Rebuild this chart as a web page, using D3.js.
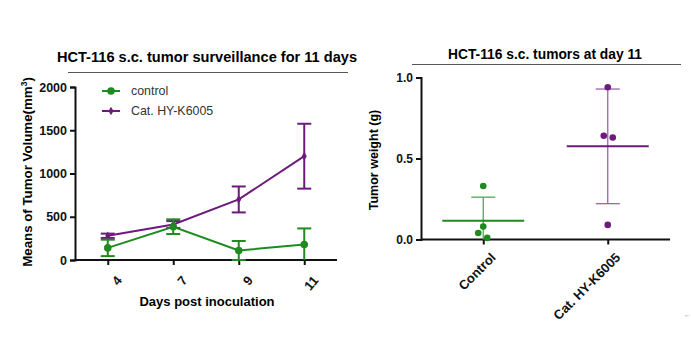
<!DOCTYPE html>
<html>
<head>
<meta charset="utf-8">
<script src="https://cdn.jsdelivr.net/npm/d3@7"></script>
<style>
  body { margin: 0; background: white; }
  text { font-family: Arial, "Liberation Sans", sans-serif; }
</style>
</head>
<body>
<svg id="chart" width="691" height="346"></svg>
<script>
// Left panel: tumour volume over time (mean +- error).
let days = ["4", "7", "9", "11"];
let controlMean = [140, 385, 110, 180];
let controlErr = [95, 85, 110, 185];
let catMean = [280, 410, 700, 1200];
let catErr = [25, 40, 150, 375];
let volumeTicks = [0, 500, 1000, 1500, 2000];

// Right panel: tumour weight at day 11 (individual animals).
let groups = ["Control", "Cat. HY-K6005"];
let controlWeights = [0.33, 0.08, 0.04, 0.01];
let catWeights = [0.94, 0.64, 0.63, 0.09];
let weightTicks = [0, 0.5, 1.0];

let green = "#1f8a1f";
let purple = "#6d1b7b";

let svg = d3.select("#chart");


// ---------- Left panel ----------
let x = d3.scalePoint().domain(days).range([75, 337]).padding(0.5);
let y = d3.scaleLinear().domain([0, 2000]).range([260, 87]);

let left = svg.append("g");

left.append("text")
  .attr("x", 207).attr("y", 62)
  .attr("text-anchor", "middle")
  .attr("font-size", 14.6).attr("font-weight", "bold")
  .text("HCT-116 s.c. tumor surveillance for 11 days");
left.append("line")
  .attr("x1", 68).attr("x2", 348).attr("y1", 72.5).attr("y2", 72.5)
  .attr("stroke", "#555").attr("stroke-width", 1);

let yAxisL = left.append("g")
  .attr("transform", "translate(75,0)")
  .call(d3.axisLeft(y).tickValues(volumeTicks).tickFormat(d3.format("d")).tickSize(5).tickPadding(3));
let xAxisL = left.append("g")
  .attr("transform", "translate(0,260)")
  .call(d3.axisBottom(x).tickSize(5).tickPadding(4));
xAxisL.select(".domain").attr("d", "M75,0H337");

[yAxisL, xAxisL].forEach(a=>{
  a.select(".domain").attr("stroke", "#111").attr("stroke-width", 2);
  a.selectAll(".tick line").attr("stroke", "#111").attr("stroke-width", 2);
  a.selectAll(".tick text")
    .attr("font-size", 12.5).attr("font-weight", "bold").attr("fill", "#111")
    .attr("font-family", "Arial, 'Liberation Sans', sans-serif");
});
xAxisL.selectAll(".tick text")
  .attr("text-anchor", "end")
  .attr("dy", "0.35em")
  .attr("font-size", 13)
  .attr("transform", "translate(4,12) rotate(-50)");

left.append("text")
  .attr("x", 207).attr("y", 306)
  .attr("text-anchor", "middle")
  .attr("font-size", 13).attr("font-weight", "bold")
  .text("Days post inoculation");

left.append("text")
  .attr("transform", "translate(32,172) rotate(-90)")
  .attr("text-anchor", "middle")
  .attr("font-size", 13.3).attr("font-weight", "bold")
  .text("Means of Tumor Volume(mm")
  .append("tspan").attr("dy", -5).attr("font-size", 8.5).text("3")
  .select(function(){ return this.parentNode; })
  .append("tspan").attr("dy", 5).text(")");

function drawSeries(means, errs, color, marker){
  let g = left.append("g");
  let pts = means.map((m, i)=>({day: days[i], m: m, e: errs[i]}));
  // error bars, clipped at zero like the reference
  pts.forEach(p=>{
    let lo = Math.max(0, p.m - p.e), hi = p.m + p.e;
    g.append("line")
      .attr("x1", x(p.day)).attr("x2", x(p.day))
      .attr("y1", y(lo)).attr("y2", y(hi))
      .attr("stroke", color).attr("stroke-width", 2);
    [hi, p.m - p.e].forEach(v=>{
      if(v < 0) return;
      g.append("line")
        .attr("x1", x(p.day) - 7).attr("x2", x(p.day) + 7)
        .attr("y1", y(v)).attr("y2", y(v))
        .attr("stroke", color).attr("stroke-width", 2);
    });
  });
  g.append("path")
    .datum(pts)
    .attr("fill", "none").attr("stroke", color).attr("stroke-width", 2)
    .attr("d", d3.line().x(d=>x(d.day)).y(d=>y(d.m)));
  g.selectAll("path.pt")
    .data(pts).enter()
    .append("path").attr("class", "pt")
    .attr("transform", d=>`translate(${x(d.day)},${y(d.m)})`)
    .attr("d", marker)
    .attr("fill", color);
}
let circleMarker = d3.symbol().type(d3.symbolCircle).size(45)();
let diamondMarker = d3.symbol().type(d3.symbolDiamond).size(22)();
drawSeries(catMean, catErr, purple, diamondMarker);
drawSeries(controlMean, controlErr, green, circleMarker);

// legend
let legend = [
  {label: "control", color: green, marker: circleMarker, y: 91},
  {label: "Cat. HY-K6005", color: purple, marker: diamondMarker, y: 111}
];
legend.forEach(l=>{
  left.append("line")
    .attr("x1", 102).attr("x2", 120).attr("y1", l.y).attr("y2", l.y)
    .attr("stroke", l.color).attr("stroke-width", 2);
  left.append("path")
    .attr("transform", `translate(111,${l.y})`)
    .attr("d", l.marker).attr("fill", l.color);
  left.append("text")
    .attr("x", 131).attr("y", l.y + 4)
    .attr("font-size", 12.4).attr("fill", "#333")
    .text(l.label);
});


// ---------- Right panel ----------
let xr = d3.scalePoint().domain(groups).range([421, 670]).padding(0.5);
let yr = d3.scaleLinear().domain([0, 1]).range([239.5, 77.5]);

let right = svg.append("g");

right.append("text")
  .attr("x", 545).attr("y", 59)
  .attr("text-anchor", "middle")
  .attr("font-size", 13.8).attr("font-weight", "bold")
  .text("HCT-116 s.c. tumors at day 11");
right.append("line")
  .attr("x1", 412).attr("x2", 681).attr("y1", 64.5).attr("y2", 64.5)
  .attr("stroke", "#555").attr("stroke-width", 1);

let yAxisR = right.append("g")
  .attr("transform", "translate(421,0)")
  .call(d3.axisLeft(yr).tickValues(weightTicks).tickFormat(d3.format(".1f")).tickSize(5).tickPadding(3));
let xAxisR = right.append("g")
  .attr("transform", "translate(0,239.5)")
  .call(d3.axisBottom(xr).tickSize(5).tickPadding(3));
xAxisR.select(".domain").attr("d", "M421,0H670");

[yAxisR, xAxisR].forEach(a=>{
  a.select(".domain").attr("stroke", "#111").attr("stroke-width", 2);
  a.selectAll(".tick line").attr("stroke", "#111").attr("stroke-width", 2);
  a.selectAll(".tick text")
    .attr("font-size", 12).attr("font-weight", "bold").attr("fill", "#111")
    .attr("font-family", "Arial, 'Liberation Sans', sans-serif");
});
xAxisR.selectAll(".tick text")
  .attr("text-anchor", "end")
  .attr("dy", "0.35em")
  .attr("font-size", 13)
  .attr("transform", "translate(4,10) rotate(-45)");

right.append("text")
  .attr("transform", "translate(378,160) rotate(-90)")
  .attr("text-anchor", "middle")
  .attr("font-size", 12.5).attr("font-weight", "bold")
  .text("Tumor weight (g)");

// jitter offsets for overlapping dots, in pixels
let controlOffsets = [0, 0, -5, 4];
let catOffsets = [0, -4, 5, 0];

function drawGroup(name, values, offsets, color, light){
  let g = right.append("g");
  let cx = xr(name);
  let m = d3.mean(values), sd = d3.deviation(values);
  let lo = Math.max(0, m - sd), hi = m + sd;
  g.append("line")
    .attr("x1", cx).attr("x2", cx).attr("y1", yr(lo)).attr("y2", yr(hi))
    .attr("stroke", light).attr("stroke-width", 1.3);
  [hi, m - sd].forEach(v=>{
    if(v < 0) return;
    g.append("line")
      .attr("x1", cx - 12).attr("x2", cx + 12).attr("y1", yr(v)).attr("y2", yr(v))
      .attr("stroke", light).attr("stroke-width", 1.3);
  });
  g.append("line")
    .attr("x1", cx - 41).attr("x2", cx + 41).attr("y1", yr(m)).attr("y2", yr(m))
    .attr("stroke", color).attr("stroke-width", 2);
  g.selectAll("circle")
    .data(values).enter()
    .append("circle")
    .attr("cx", (d, i)=>cx + offsets[i])
    .attr("cy", d=>yr(d))
    .attr("r", 3.3)
    .attr("fill", color);
}
drawGroup("Control", controlWeights, controlOffsets, green, "#4fa84f");
drawGroup("Cat. HY-K6005", catWeights, catOffsets, purple, "#a060b0");

// stray paragraph mark from the source document
svg.append("text")
  .attr("x", 684).attr("y", 317)
  .attr("font-size", 7).attr("fill", "#888")
  .text("←");
</script>
</body>
</html>
